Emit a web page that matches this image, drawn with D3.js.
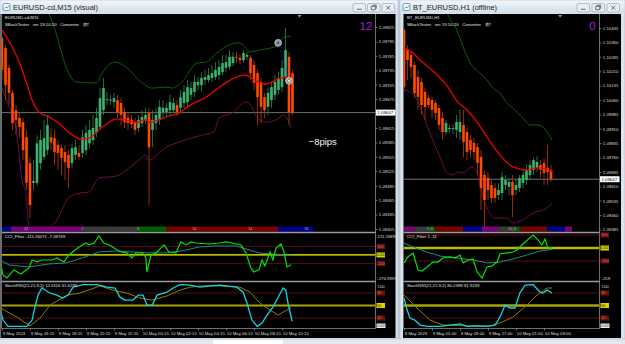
<!DOCTYPE html>
<html>
<head>
<meta charset="utf-8">
<script src="https://cdn.jsdelivr.net/npm/d3@7"></script>
<style>
  body { margin: 0; background: #c9d3de; overflow: hidden; }
  svg { display: block; }
  text { font-family: "Liberation Sans", Arial, sans-serif; }
</style>
</head>
<body>
<svg id="chart"></svg>
<script>
// ---------- left window: EURUSD M15 ----------
const m15Open = [1.09802,1.09781,1.09740,1.09688,1.09652,1.09636,1.09627,1.09596,1.09542,1.09501,
  1.09501,1.09542,1.09555,1.09569,1.09596,1.09594,1.09580,1.09573,1.09565,1.09559,
  1.09542,1.09559,1.09563,1.09563,1.09569,1.09583,1.09590,1.09605,1.09617,1.09652,
  1.09673,1.09673,1.09669,1.09673,1.09667,1.09648,1.09636,1.09632,1.09627,1.09615,
  1.09625,1.09632,1.09646,1.09611,1.09625,1.09632,1.09648,1.09648,1.09652,1.09652,
  1.09663,1.09657,1.09667,1.09669,1.09684,1.09690,1.09704,1.09704,1.09715,1.09715,
  1.09719,1.09721,1.09725,1.09731,1.09740,1.09742,1.09750,1.09763,1.09761,1.09756,
  1.09763,1.09761,1.09746,1.09729,1.09711,1.09679,1.09659,1.09673,1.09684,1.09694,
  1.09700,1.09721,1.09763,1.09729];
const m15High = [1.09806,1.09788,1.09746,1.09694,1.09663,1.09648,1.09636,1.09611,1.09553,1.09548,
  1.09600,1.09611,1.09632,1.09642,1.09615,1.09611,1.09590,1.09580,1.09580,1.09569,
  1.09583,1.09590,1.09580,1.09611,1.09621,1.09632,1.09642,1.09657,1.09698,1.09719,
  1.09690,1.09684,1.09688,1.09684,1.09677,1.09657,1.09648,1.09642,1.09636,1.09642,
  1.09652,1.09657,1.09657,1.09652,1.09657,1.09673,1.09673,1.09667,1.09684,1.09677,
  1.09673,1.09694,1.09704,1.09715,1.09711,1.09725,1.09721,1.09731,1.09736,1.09740,
  1.09746,1.09752,1.09756,1.09767,1.09767,1.09777,1.09773,1.09773,1.09769,1.09777,
  1.09773,1.09767,1.09756,1.09736,1.09719,1.09688,1.09698,1.09711,1.09725,1.09731,
  1.09756,1.09823,1.09773,1.09736];
const m15Low = [1.09715,1.09673,1.09663,1.09611,1.09600,1.09594,1.09548,1.09486,1.09428,1.09486,
  1.09496,1.09528,1.09548,1.09559,1.09569,1.09538,1.09528,1.09517,1.09507,1.09490,
  1.09532,1.09548,1.09548,1.09553,1.09559,1.09573,1.09580,1.09596,1.09611,1.09642,
  1.09663,1.09663,1.09657,1.09636,1.09621,1.09615,1.09611,1.09615,1.09600,1.09607,
  1.09617,1.09623,1.09455,1.09575,1.09611,1.09621,1.09636,1.09638,1.09642,1.09646,
  1.09640,1.09646,1.09657,1.09659,1.09673,1.09679,1.09694,1.09690,1.09704,1.09709,
  1.09711,1.09715,1.09715,1.09725,1.09731,1.09736,1.09744,1.09750,1.09748,1.09750,
  1.09756,1.09715,1.09694,1.09621,1.09625,1.09636,1.09642,1.09657,1.09673,1.09684,
  1.09690,1.09711,1.09621,1.09642];
const m15Close = [1.09736,1.09704,1.09688,1.09625,1.09632,1.09617,1.09569,1.09501,1.09455,1.09505,
  1.09583,1.09590,1.09594,1.09621,1.09585,1.09565,1.09563,1.09553,1.09544,1.09532,
  1.09573,1.09575,1.09555,1.09596,1.09605,1.09611,1.09615,1.09636,1.09677,1.09698,
  1.09675,1.09674,1.09677,1.09648,1.09642,1.09627,1.09625,1.09623,1.09611,1.09632,
  1.09638,1.09642,1.09575,1.09632,1.09642,1.09659,1.09657,1.09657,1.09669,1.09667,
  1.09648,1.09679,1.09690,1.09700,1.09698,1.09711,1.09711,1.09719,1.09721,1.09725,
  1.09729,1.09736,1.09742,1.09750,1.09752,1.09763,1.09763,1.09761,1.09756,1.09771,
  1.09767,1.09729,1.09709,1.09679,1.09659,1.09652,1.09688,1.09700,1.09711,1.09719,
  1.09740,1.09777,1.09648,1.09647];

// [bar index, price]
const m15MaMid = [[0,1.09819],[2.6,1.09788],[4.9,1.09752],[6.9,1.09711],[8.6,1.09673],[10.6,1.09648],[13.4,1.09638],
  [16.3,1.09625],[18.3,1.09611],[20.6,1.09598],[22.6,1.09592],[24.9,1.09594],[27.7,1.09611],[30.6,1.09627],[32.6,1.09634],
  [34.9,1.09632],[38.3,1.09627],[41.1,1.09632],[42,1.09627],[47.7,1.09640],[50.6,1.09646],[53.4,1.09661],[58.3,1.09679],
  [62.9,1.09704],[67.7,1.09723],[69.7,1.09725],[72,1.09715],[75.4,1.09706],[78.3,1.09715],[81.1,1.09721],[82.6,1.09711]];
const m15MaUp = [[12,1.09885],[13.4,1.09854],[15.4,1.09813],[18.3,1.09742],[21.1,1.09711],[24,1.09709],[26.9,1.09709],
  [28.6,1.09729],[32,1.09752],[35.4,1.09742],[39.1,1.09715],[42.9,1.09698],[46.9,1.09700],[48.6,1.09698],[51.4,1.09711],
  [55.7,1.09750],[58.3,1.09752],[61.4,1.09771],[64.9,1.09788],[67.7,1.09792],[69.7,1.09781],[70.6,1.09773],[73.4,1.09777],
  [78.3,1.09785],[80.6,1.09804],[82.6,1.09806]];
const m15MaLow = [[0,1.09698],[2,1.09659],[4,1.09617],[5.7,1.09507],[6.9,1.09476],[7.7,1.09409],[12.6,1.09407],
  [15.7,1.09424],[19.1,1.09471],[22.6,1.09480],[24.9,1.09482],[27.7,1.09511],[32.6,1.09515],[36.3,1.09532],[39.1,1.09548],
  [41.1,1.09559],[41.7,1.09548],[46.9,1.09575],[51.4,1.09588],[57.1,1.09600],[60.6,1.09607],[62,1.09636],[65.7,1.09646],
  [69.7,1.09669],[71.4,1.09659],[72.9,1.09636],[75.7,1.09627],[78.3,1.09632],[80.6,1.09642],[82.6,1.09615]];

const m15Cci = [[-0.5,-94],[0.3,-235],[1.4,-270],[3.4,-176],[5.4,-223],[7.7,-153],[8.6,-59],[10,-82],[11.4,-59],
  [14.3,-59],[15.7,-35],[17.7,-82],[19.1,0],[22,94],[24,141],[24.9,118],[26.3,141],[27.7,223],[29.1,141],[30.6,118],
  [32,82],[34,35],[35.7,24],[37.1,-35],[38.3,24],[40,24],[41.1,-24],[41.4,-200],[42.6,0],[44,24],[46.3,118],[47.7,35],
  [49.7,24],[51.1,153],[52.6,118],[54,153],[55.4,141],[59.1,129],[62,141],[64,153],[65.7,141],[68.3,118],[69.7,24],
  [71.1,-153],[72,-200],[73.4,-176],[74.3,-59],[75.1,-129],[76.6,35],[77.4,-59],[78.3,82],[79.7,129],[80.6,35],
  [81.4,-141],[82.6,-115]];
const m15CciSig = [[-0.5,-59],[2,-118],[7.7,-141],[13.4,-106],[18.3,-94],[22.9,-35],[27.7,35],[32.6,47],[37.1,35],
  [42,24],[46.9,24],[51.4,47],[56.3,94],[61.1,106],[66.9,106],[70.6,59],[73.4,24],[77.1,12],[79.7,5],[82.6,-7]];
const m15Stoch = [[-0.5,39],[0.3,15],[1.7,0],[7.1,0],[8.6,15],[9.4,46],[10.3,75],[11.4,92],[13.7,80],[15.7,75],
  [17.4,68],[18.9,75],[20.3,94],[23.1,100],[27.1,100],[30,94],[32.3,92],[33.7,70],[35.1,63],[37.4,63],[38.9,75],
  [40.3,75],[41.4,51],[42.9,51],[44.3,75],[47.1,82],[48.9,92],[50.9,100],[53.7,99],[56.6,94],[59.4,97],[62.3,99],
  [67.1,94],[68.9,82],[70,56],[71.4,15],[72.9,0],[74.3,8],[75.7,27],[77.4,46],[78.9,70],[80.3,92],[81.1,87],
  [81.7,56],[82.9,12]];
const m15StochSig = [[-0.5,44],[4.3,22],[8,1],[10.9,20],[13.7,51],[18.6,75],[22.3,80],[28,97],[31.7,87],[35.7,80],
  [39.4,68],[42.9,63],[47.1,73],[50.9,87],[53.7,94],[56.6,97],[62.3,97],[68,94],[70.9,82],[73.7,56],[76.6,39],
  [78.9,27],[80.3,34],[82.6,45]];

const m15PriceTicks = [1.09825,1.09795,1.09765,1.09735,1.09705,1.09675,1.09615,1.09585,1.09555,1.09525,
  1.09495,1.09465,1.09435,1.09405];
const m15TimeIdx = [0,8,16,24,32,40,48,56,64,72,80];
const m15TimeLabels = ["9 May 2023","9 May 16:15","9 May 18:15","9 May 20:15","9 May 22:15","10 May 00:15",
  "10 May 02:15","10 May 04:15","10 May 06:15","10 May 08:15","10 May 10:15"];
const m15SessStart = [-1,2.6,22.9,38.9,46.9,78.9];
const m15SessEnd = [2.6,22.9,38.9,46.9,78.9,88.9];
const m15SessKind = ["pacific","asia","quiet","europe","overlap","pacific"];
const m15SessLabelIdx = [6.9,22.9,38.9,54.9,70.9,86.9];
const m15SessLabels = ["22","2","6","10","14","18"];
const tradeIdx = [78.9, 82];
const tradePrice = [1.09792, 1.09713];

// ---------- right window: BT_EURUSD H1 ----------
const h1Open = [1.10425,1.10320,1.10294,1.10242,1.10180,1.10154,1.10102,1.10070,1.10060,1.10044,
  1.10018,1.09966,1.09893,1.09909,1.09909,1.09904,1.09893,1.09930,1.09893,1.09852,
  1.09836,1.09815,1.09763,1.09669,1.09654,1.09617,1.09601,1.09565,1.09575,1.09617,
  1.09607,1.09633,1.09591,1.09601,1.09627,1.09643,1.09669,1.09695,1.09706,1.09721,
  1.09732,1.09706,1.09695];
const h1High = [1.10440,1.10346,1.10310,1.10258,1.10216,1.10175,1.10122,1.10086,1.10076,1.10060,
  1.10034,1.09997,1.09956,1.09930,1.09935,1.09982,1.10008,1.10008,1.09914,1.09878,
  1.09862,1.09836,1.09799,1.09695,1.09685,1.09643,1.09627,1.09627,1.09685,1.09669,
  1.09654,1.09669,1.09643,1.09669,1.09695,1.09721,1.09747,1.09758,1.09768,1.09747,
  1.09758,1.09825,1.09721];
const h1Low = [1.10102,1.10164,1.10175,1.10070,1.10008,1.09982,1.09956,1.10018,1.09966,1.09956,
  1.09904,1.09852,1.09878,1.09888,1.09883,1.09862,1.09852,1.09763,1.09747,1.09758,
  1.09747,1.09669,1.09487,1.09398,1.09539,1.09523,1.09523,1.09539,1.09539,1.09591,
  1.09565,1.09450,1.09565,1.09581,1.09601,1.09617,1.09643,1.09669,1.09685,1.09654,
  1.09617,1.09617,1.09633];
const h1Close = [1.10128,1.10268,1.10232,1.10096,1.10076,1.10034,1.10023,1.10034,1.10008,1.09992,
  1.09930,1.09893,1.09940,1.09914,1.09914,1.09945,1.09945,1.09841,1.09789,1.09799,
  1.09789,1.09732,1.09601,1.09539,1.09591,1.09549,1.09549,1.09591,1.09659,1.09643,
  1.09633,1.09565,1.09617,1.09654,1.09669,1.09695,1.09721,1.09747,1.09737,1.09695,
  1.09680,1.09685,1.09647];

const h1MaMid = [[0,1.10331],[2.3,1.10310],[4.6,1.10268],[8.3,1.10211],[12.3,1.10133],[15.4,1.10049],[18,1.10008],
  [20.9,1.09945],[23.7,1.09867],[27.4,1.09773],[31.1,1.09711],[35.1,1.09695],[38,1.09706],[40.9,1.09700],[42.6,1.09685]];
const h1MaUp = [[11.5,1.10560],[12.6,1.10503],[15.1,1.10425],[16.9,1.10336],[18.9,1.10253],[21.7,1.10201],[23.7,1.10164],
  [25.4,1.10122],[27.4,1.10096],[29.4,1.10044],[31.1,1.10018],[34,1.09966],[36,1.09930],[38,1.09930],[39.7,1.09919],
  [41.1,1.09888],[42.3,1.09852]];
const h1MaLow = [[0,1.10112],[2.6,1.10091],[4.6,1.10023],[7.4,1.09888],[10.3,1.09763],[12.3,1.09680],[14,1.09669],
  [15.4,1.09685],[16.9,1.09680],[19.4,1.09711],[20.9,1.09680],[22.3,1.09575],[24,1.09487],[26,1.09445],[29.4,1.09445],
  [31.1,1.09419],[34,1.09435],[36.9,1.09471],[40.9,1.09497],[42.3,1.09523]];

const h1Cci = [[0,-115],[1.1,-69],[2.6,-38],[4,-169],[5.1,-177],[6.6,-146],[8.3,-108],[9.7,-108],[11.1,-77],[13.1,-69],
  [14.6,-77],[16,-54],[16.9,-115],[18.3,-92],[19.7,-85],[20.9,-185],[22.3,-231],[23.7,-146],[25.1,-138],[26.6,-108],
  [27.4,-46],[29.4,-38],[31.1,-31],[32.3,-15],[33.1,8],[34.6,46],[36.9,100],[38.3,62],[39.4,23],[40.3,69],[41.1,0],[42.3,1]];
const h1CciSig = [[0,38],[2.6,8],[6.6,-31],[10.3,-62],[15.1,-77],[19.7,-92],[23.7,-115],[27.4,-108],[31.1,-85],
  [35.1,-54],[38.9,-23],[42.3,-11]];
const h1Stoch = [[0,68],[0.9,39],[1.7,20],[3.1,15],[4.6,3],[6.6,0],[10.3,0],[13.1,3],[16,6],[18,0],[20.9,1],[23.7,0],
  [26,3],[27.4,22],[28.9,51],[30.3,44],[31.7,44],[33.1,80],[34.6,99],[36.9,100],[38.9,82],[39.7,80],[40.9,87],[42.3,80]];
const h1StochSig = [[0,75],[3.7,44],[7.4,15],[11.1,3],[18,1],[24.6,1],[27.4,8],[31.1,22],[35.1,51],[38,75],
  [40.9,92],[42.3,92]];

const h1PriceTicks = [1.10435,1.10360,1.10285,1.10210,1.10135,1.10060,1.09985,1.09910,1.09835,1.09760,
  1.09685,1.09610,1.09535,1.09460,1.09385];
const h1TimeIdx = [0,8,16,24,32,40];
const h1TimeLabels = ["8 May 2023","9 May 01:00","9 May 09:00","9 May 17:00","10 May 01:00","10 May 09:00"];
const h1SessStart = [-0.3,3.1,6.9,8.9,16.9,22.3,26.9,31.7,33.1,40.9,46];
const h1SessEnd = [3.1,6.9,8.9,16.9,22.3,26.9,31.7,33.1,40.9,46,48];
const h1SessKind = ["asia","quiet","europe","overlap","pacific","asia","quiet","europe","overlap","pacific","asia"];
const h1SessLabelIdx = [7.4,30.9];
const h1SessLabels = ["9_6","10_6"];

const lastPrice = 1.09647;
const cciLevels = [100, 0, -100];
const stochLevels = [80, 50, 20];

// ---------- drawing ----------
const svg = d3.select("#chart").attr("width", 625).attr("height", 344);
const defs = svg.append("defs");
const grad = defs.append("linearGradient").attr("id", "titleGrad")
  .attr("x1", 0).attr("y1", 0).attr("x2", 0).attr("y2", 1);
grad.append("stop").attr("offset", "0%").attr("stop-color", "#f2f6fa");
grad.append("stop").attr("offset", "100%").attr("stop-color", "#d3deea");

svg.append("rect").attr("width", 625).attr("height", 344).attr("fill", "#c6d0dc");
svg.append("rect").attr("x", 0).attr("y", 339).attr("width", 625).attr("height", 5).attr("fill", "#e3e8ee");
svg.append("rect").attr("x", 213).attr("y", 340).attr("width", 70).attr("height", 4).attr("fill", "#ffffff");

const PANE = { top: 14, stripTop: 226.5, stripH: 5, sep1: 232.5, cciTop: 233.5, cciBot: 281,
  sep2: 281.5, stTop: 282.3, stBot: 328, axisY: 328.5 };
const stochY = d3.scaleLinear().domain([0, 100]).range([326.3, 284.7]);
const sessionColor = { pacific: "#00008c", asia: "#7d007d", quiet: "#3a3a3a", europe: "#006000", overlap: "#7a0000" };
const FS = 4.3;

function drawChart(c) {
  const g = svg.append("g");
  const W = c.frameR - c.frameL;

  // window chrome
  g.append("rect").attr("x", c.frameL).attr("y", 0).attr("width", W).attr("height", 339)
    .attr("fill", "#dbe3ec").attr("stroke", "#a9b7c8").attr("stroke-width", 0.6);
  g.append("rect").attr("x", c.frameL + 0.5).attr("y", 0.5).attr("width", W - 1).attr("height", 13)
    .attr("fill", "url(#titleGrad)");
  const ic = g.append("g").attr("transform", `translate(${c.frameL + 3},3.5)`);
  ic.append("rect").attr("width", 7).attr("height", 7).attr("rx", 1.2)
    .attr("fill", "#f8fbff").attr("stroke", "#4f7fb8").attr("stroke-width", 0.8);
  ic.append("path").attr("d", "M1.2,5.2 L3,3.2 L4.4,4.4 L6,2").attr("fill", "none")
    .attr("stroke", "#3a8a3a").attr("stroke-width", 0.8);
  g.append("text").attr("x", c.frameL + 13).attr("y", 10).attr("font-size", 7.5)
    .attr("fill", "#1e1e1e").text(c.title);
  c.buttons.forEach((bx, k) => {
    g.append("rect").attr("x", bx).attr("y", 3.5).attr("width", 12.5).attr("height", 8.5).attr("rx", 1.5)
      .attr("fill", "#e9eef4").attr("stroke", "#8f9fb3").attr("stroke-width", 0.6);
    const cx = bx + 6.25, cy = 7.75;
    const p = k === 0 ? `M${cx - 2.5},${cy + 1.5} h5` :
      k === 1 ? `M${cx - 2.5},${cy - 1.5} h4 v3.5 h-4 z M${cx - 1.5},${cy - 2.5} h4 v3.5` :
      `M${cx - 2},${cy - 2} l4,4 M${cx + 2},${cy - 2} l-4,4`;
    g.append("path").attr("d", p).attr("fill", "none").attr("stroke", "#4a4a4a").attr("stroke-width", 0.8);
  });

  // black chart surface
  g.append("rect").attr("x", c.blackL).attr("y", 14).attr("width", c.blackR - c.blackL).attr("height", 324)
    .attr("fill", "#000");

  const clip = (id, y0, y1) => {
    defs.append("clipPath").attr("id", id).append("rect")
      .attr("x", c.plotL).attr("y", y0).attr("width", c.plotR - c.plotL).attr("height", y1 - y0);
    return `url(#${id})`;
  };
  const mainClip = clip(c.id + "Main", PANE.top, PANE.stripTop);
  const cciClip = clip(c.id + "Cci", PANE.cciTop, PANE.cciBot);
  const stClip = clip(c.id + "St", PANE.stTop, PANE.stBot);

  const x = c.x, y = c.y;

  // session strip
  g.append("g").selectAll("rect").data(c.sessStart).join("rect")
    .attr("x", (d, i) => Math.max(c.plotL, x(d)))
    .attr("width", (d, i) => x(c.sessEnd[i]) - Math.max(c.plotL, x(d)))
    .attr("y", PANE.stripTop).attr("height", PANE.stripH)
    .attr("fill", (d, i) => sessionColor[c.sessKind[i]]);
  g.append("g").selectAll("text").data(c.sessLabelIdx).join("text")
    .attr("x", d => x(d)).attr("y", PANE.stripTop + 2.5).attr("dy", "0.35em")
    .attr("text-anchor", "middle").attr("font-size", 3.6).attr("fill", "#bdbdbd")
    .text((d, i) => c.sessLabels[i]);

  // frame lines
  const frame = g.append("g").attr("stroke", "#8a8a8a").attr("fill", "none");
  frame.append("line").attr("x1", c.plotR).attr("x2", c.plotR).attr("y1", 14).attr("y2", PANE.axisY).attr("stroke-width", 0.8);
  frame.append("line").attr("x1", c.plotL).attr("x2", c.plotL).attr("y1", 14).attr("y2", PANE.axisY).attr("stroke-width", 0.8);
  [PANE.sep1, PANE.sep2].forEach(v => frame.append("line").attr("x1", c.plotL).attr("x2", c.plotR)
    .attr("y1", v).attr("y2", v).attr("stroke", "#9a9a9a").attr("stroke-width", 1.4));
  frame.append("line").attr("x1", c.plotL).attr("x2", c.plotR).attr("y1", PANE.axisY).attr("y2", PANE.axisY)
    .attr("stroke-width", 0.8);

  // current price line
  g.append("line").attr("x1", c.plotL).attr("x2", c.plotR).attr("y1", y(lastPrice)).attr("y2", y(lastPrice))
    .attr("stroke", "#8c8c8c").attr("stroke-width", 0.8);

  // price bands
  const main = g.append("g").attr("clip-path", mainClip);
  const band = d3.line().x(d => x(d[0])).y(d => y(d[1])).curve(d3.curveMonotoneX);
  main.append("path").attr("d", band(c.maUp)).attr("fill", "none").attr("stroke", "#0b6a0b").attr("stroke-width", 0.9);
  main.append("path").attr("d", band(c.maLow)).attr("fill", "none").attr("stroke", "#7a0c52").attr("stroke-width", 0.9);

  // candles
  const idx = d3.range(c.open.length);
  const bull = i => c.close[i] >= c.open[i];
  main.append("g").selectAll("line").data(idx).join("line")
    .attr("x1", i => x(i)).attr("x2", i => x(i))
    .attr("y1", i => y(c.high[i])).attr("y2", i => y(c.low[i]))
    .attr("stroke", i => bull(i) ? "#1f7a48" : "#a8300a").attr("stroke-width", 0.9);
  main.append("g").selectAll("rect").data(idx).join("rect")
    .attr("x", i => x(i) - 1.3).attr("width", 2.6)
    .attr("y", i => y(Math.max(c.open[i], c.close[i])))
    .attr("height", i => Math.max(1, Math.abs(y(c.open[i]) - y(c.close[i]))))
    .attr("fill", i => bull(i) ? "#3cb371" : "#ff4a00");

  main.append("path").attr("d", band(c.maMid)).attr("fill", "none").attr("stroke", "#ee0000").attr("stroke-width", 1.3);

  // trade marks
  if (c.tradeIdx) {
    const pts = c.tradeIdx.map((d, i) => [d, c.tradePrice[i]]);
    main.append("path").attr("d", d3.line().x(d => x(d[0])).y(d => y(d[1]))(pts))
      .attr("stroke", "#2030ff").attr("stroke-width", 0.7).attr("stroke-dasharray", "1.2,1").attr("fill", "none");
    main.append("g").selectAll("circle").data(pts).join("circle")
      .attr("cx", d => x(d[0])).attr("cy", d => y(d[1])).attr("r", 3.4)
      .attr("fill", "#8f8f8f").attr("stroke", "#d0d0d0").attr("stroke-width", 0.8);
    main.append("circle").attr("cx", x(pts[0][0])).attr("cy", y(pts[0][1])).attr("r", 1).attr("fill", "#1b3cff");
    const ex = x(pts[1][0]), ey = y(pts[1][1]);
    main.append("path").attr("d", `M${ex - 1.4},${ey - 1.4} l2.8,2.8 M${ex + 1.4},${ey - 1.4} l-2.8,2.8`)
      .attr("stroke", "#ffffff").attr("stroke-width", 0.8);
  }

  // shift marker
  const sx = x(c.shiftIdx);
  g.append("path").attr("d", `M${sx - 2},15 h4 l-2,2.5 z`).attr("fill", "#9a9a9a");

  // header texts
  const hx = c.plotL + 3.5;
  g.append("text").attr("x", hx).attr("y", 19).attr("font-size", FS).attr("fill", "#e8e8e8").text(c.symbolText);
  g.append("text").attr("x", hx).attr("y", 25.5).attr("font-size", FS).attr("fill", "#e8e8e8")
    .attr("xml:space", "preserve").style("white-space", "pre")
    .text("SBackTester   ver 19.10.20   Converter   表T");
  g.append("text").attr("x", c.counterX).attr("y", 29.5).attr("font-size", 11.5).attr("text-anchor", "middle")
    .attr("fill", "#a51fd6").text(c.counter);

  // price axis
  const ax = g.append("g").attr("transform", `translate(${c.plotR},0)`)
    .call(d3.axisRight(y).tickValues(c.priceTicks).tickSize(2).tickPadding(1.3).tickFormat(d3.format(".5f")));
  ax.select(".domain").remove();
  ax.selectAll("line").attr("stroke", "#b0b0b0").attr("stroke-width", 0.6);
  ax.selectAll("text").attr("fill", "#dedede").attr("font-size", FS).attr("font-family", "Liberation Sans, Arial");
  const ly = y(lastPrice);
  g.append("rect").attr("x", c.plotR + 0.5).attr("y", ly - 3).attr("width", 19.5).attr("height", 6)
    .attr("fill", "#ffffff");
  g.append("text").attr("x", c.plotR + 2).attr("y", ly).attr("dy", "0.35em").attr("font-size", FS)
    .attr("fill", "#000").text(d3.format(".5f")(lastPrice));

  // CCI pane
  const cg = g.append("g");
  const cy = c.cciY;
  const cciG = cg.append("g").attr("clip-path", cciClip);
  cciLevels.forEach(v => cciG.append("line").attr("x1", c.plotL).attr("x2", c.plotR)
    .attr("y1", cy(v)).attr("y2", cy(v))
    .attr("stroke", v === 0 ? c.zeroColor : "#6e0f0f").attr("stroke-width", v === 0 ? c.zeroWidth : 0.8));
  const ln = sc => d3.line().x(d => x(d[0])).y(d => sc(d[1]));
  cciG.append("path").attr("d", ln(cy)(c.cciSig)).attr("fill", "none").attr("stroke", "#1a8c8c").attr("stroke-width", 1);
  cciG.append("path").attr("d", ln(cy)(c.cci)).attr("fill", "none").attr("stroke", "#00e400").attr("stroke-width", 1.2);
  cg.append("text").attr("x", hx).attr("y", PANE.cciTop + 4.5).attr("font-size", FS).attr("fill", "#e0e0e0").text(c.cciHeader);

  // Stoch pane
  const stG = g.append("g").attr("clip-path", stClip);
  stochLevels.forEach(v => stG.append("line").attr("x1", c.plotL).attr("x2", c.plotR)
    .attr("y1", stochY(v)).attr("y2", stochY(v))
    .attr("stroke", v === 50 ? "#a6a600" : "#6e0f0f").attr("stroke-width", v === 50 ? c.fiftyWidth : 0.8));
  stG.append("path").attr("d", ln(stochY)(c.stochSig)).attr("fill", "none").attr("stroke", "#8a7d00").attr("stroke-width", 1);
  stG.append("path").attr("d", ln(stochY)(c.stoch)).attr("fill", "none").attr("stroke", "#12d2e6").attr("stroke-width", 1.3);
  g.append("text").attr("x", hx).attr("y", PANE.stTop + 4.5).attr("font-size", FS).attr("fill", "#e0e0e0").text(c.stochHeader);

  // pane scale tags
  const tag = (yy, label, mid) => {
    g.append("rect").attr("x", c.plotR + 1).attr("y", yy - 2.5).attr("width", 8.5).attr("height", 5)
      .attr("fill", mid ? "#d8d800" : "#6a1212");
    g.append("text").attr("x", c.plotR + 1.8).attr("y", yy).attr("dy", "0.35em").attr("font-size", 3.7)
      .attr("fill", mid ? "#000" : "#e26a6a").text(label);
  };
  const plain = (yy, label) => g.append("text").attr("x", c.plotR + 2).attr("y", yy).attr("dy", "0.35em")
    .attr("font-size", FS).attr("fill", "#dedede").text(label);
  if (c.cciTop) plain(PANE.cciTop + 3, c.cciTop);
  cciLevels.forEach(v => tag(cy(v), v === 0 ? "0.00" : String(v), v === 0));
  plain(PANE.cciBot - 3, c.cciBottom);
  plain(stochY(100) + 1.5, "100");
  stochLevels.forEach(v => tag(stochY(v), String(v), v === 50));
  g.append("rect").attr("x", c.plotR + 1).attr("y", PANE.stBot - 4.5).attr("width", 9).attr("height", 4.5).attr("fill", "#f0f0f0");
  g.append("text").attr("x", c.plotR + 1.8).attr("y", PANE.stBot - 2.2).attr("dy", "0.35em")
    .attr("font-size", 3.7).attr("fill", "#000").text("0.00");

  // time axis
  const tx = g.append("g").attr("transform", `translate(0,${PANE.axisY})`)
    .call(d3.axisBottom(x).tickValues(c.timeIdx).tickSize(2).tickPadding(1.2).tickFormat((d, i) => c.timeLabels[i]));
  tx.select(".domain").remove();
  tx.selectAll("line").attr("stroke", "#b0b0b0").attr("stroke-width", 0.6);
  tx.selectAll("text").attr("text-anchor", "start").attr("x", 0.3).attr("fill", "#dedede")
    .attr("font-size", FS).attr("font-family", "Liberation Sans, Arial");

  return g;
}

const leftX = d3.scaleLinear().domain([0, 83]).range([2, 292.5]);
const leftY = d3.scaleLinear().domain([1.09405, 1.09825]).range([229, 27]);
const left = drawChart({
  id: "m15", frameL: 0, frameR: 398, blackL: 0.5, blackR: 395.5, plotL: 1.5, plotR: 375.5,
  title: "EURUSD-cd,M15 (visual)", symbolText: "EURUSD-cd,M15", counter: "12", counterX: 366,
  buttons: [353, 367.5, 382], shiftIdx: 85,
  x: leftX, y: leftY,
  open: m15Open, high: m15High, low: m15Low, close: m15Close,
  maMid: m15MaMid, maUp: m15MaUp, maLow: m15MaLow,
  cci: m15Cci, cciSig: m15CciSig, cciY: d3.scaleLinear().domain([-276.9, 211.27]).range([278.5, 237]),
  zeroColor: "#ffff00", zeroWidth: 1.2, fiftyWidth: 1.8,
  stoch: m15Stoch, stochSig: m15StochSig,
  cciHeader: "CCI_Filter -115.26071 -7.08749", stochHeader: "StochRSI(21,21,9,2) 12.4116 31.6236",
  cciTop: "211.26897", cciBottom: "-276.8991",
  priceTicks: m15PriceTicks, timeIdx: m15TimeIdx, timeLabels: m15TimeLabels,
  sessStart: m15SessStart, sessEnd: m15SessEnd, sessKind: m15SessKind,
  sessLabelIdx: m15SessLabelIdx, sessLabels: m15SessLabels,
  tradeIdx: tradeIdx, tradePrice: tradePrice
});

// result label on the visual chart
left.append("text").attr("x", leftX(87.6)).attr("y", leftY(1.09586)).attr("dy", "0.35em")
  .attr("font-size", 9.5).attr("fill", "#f4f4f4").text("−8pips");

drawChart({
  id: "h1", frameL: 400, frameR: 625, blackL: 403, blackR: 621, plotL: 403.5, plotR: 599.5,
  title: "BT_EURUSD,H1 (offline)", symbolText: "BT_EURUSD,H1", counter: "0", counterX: 592.5,
  buttons: [577, 592, 607], shiftIdx: 44.6,
  x: d3.scaleLinear().domain([0, 42]).range([404, 551]),
  y: d3.scaleLinear().domain([1.09385, 1.10435]).range([229.5, 28]),
  open: h1Open, high: h1High, low: h1Low, close: h1Close,
  maMid: h1MaMid, maUp: h1MaUp, maLow: h1MaLow,
  cci: h1Cci, cciSig: h1CciSig, cciY: d3.scaleLinear().domain([-100, 100]).range([261, 235]),
  zeroColor: "#b8b800", zeroWidth: 2.6, fiftyWidth: 2.6,
  stoch: h1Stoch, stochSig: h1StochSig,
  cciHeader: "CCI_Filter 1 -11", stochHeader: "StochRSI(21,21,9,2) 80.2389 91.9239",
  cciTop: null, cciBottom: "-259",
  priceTicks: h1PriceTicks, timeIdx: h1TimeIdx, timeLabels: h1TimeLabels,
  sessStart: h1SessStart, sessEnd: h1SessEnd, sessKind: h1SessKind,
  sessLabelIdx: h1SessLabelIdx, sessLabels: h1SessLabels
});
</script>
</body>
</html>
